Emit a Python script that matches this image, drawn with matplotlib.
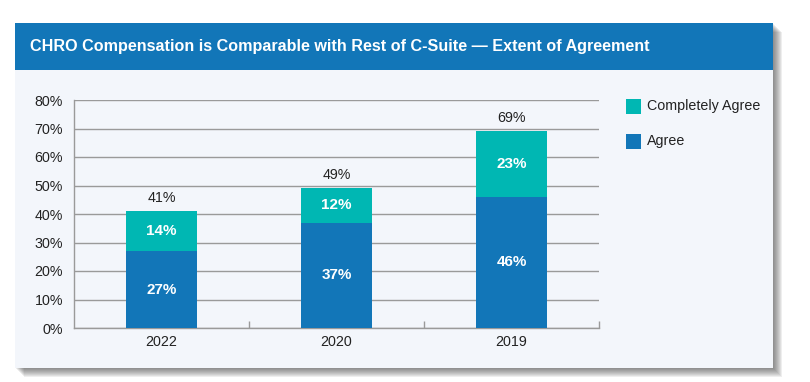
import matplotlib.pyplot as plt
from matplotlib.patches import Rectangle
from matplotlib.ticker import FixedLocator

years = ['2022', '2020', '2019']
agree = [27, 37, 46]
completely_agree = [14, 12, 23]
totals = [41, 49, 69]
y_ticks = [0, 10, 20, 30, 40, 50, 60, 70, 80]

BLUE = '#1276b8'
TEAL = '#00b7b3'
PANEL = '#f3f6fb'
GRID = '#9a9a9a'
TEXT = '#222222'

plt.rcParams['font.family'] = ['Liberation Sans', 'DejaVu Sans']

W, H = 810, 382
fig = plt.figure(figsize=(W / 100, H / 100), dpi=100)
fig.patch.set_facecolor('white')


def px(x0, y0, x1, y1):
    # pixel box (top-left origin) -> figure fraction rect
    return (x0 / W, 1 - y1 / H, (x1 - x0) / W, (y1 - y0) / H)


# soft shadow behind the panel
for i in range(9, 0, -1):
    l, b, w, h = px(15 + i, 23 + i, 773 + i, 368 + i)
    fig.patches.append(Rectangle((l, b), w, h, transform=fig.transFigure,
                                 facecolor='#444444', alpha=0.09,
                                 edgecolor='none', zorder=0))

l, b, w, h = px(15, 23, 773, 368)
fig.patches.append(Rectangle((l, b), w, h, transform=fig.transFigure,
                             facecolor=PANEL, edgecolor='none', zorder=1))
l, b, w, h = px(15, 23, 773, 70)
fig.patches.append(Rectangle((l, b), w, h, transform=fig.transFigure,
                             facecolor=BLUE, edgecolor='none', zorder=2))
fig.text(30 / W, 1 - 46.5 / H,
         'CHRO Compensation is Comparable with Rest of C-Suite \u2014 Extent of Agreement',
         color='white', fontsize=11.6, fontweight='bold', va='center', ha='left', zorder=3)

ax = fig.add_axes(px(74, 100, 599, 328))
ax.set_zorder(5)
ax.set_facecolor('none')
x = list(range(len(years)))
bw = 0.405
ax.bar(x, agree, width=bw, color=BLUE, zorder=3, label='Agree')
ax.bar(x, completely_agree, width=bw, bottom=agree, color=TEAL, zorder=3,
       label='Completely Agree')

for i in x:
    ax.text(i, agree[i] / 2, f'{agree[i]}%', ha='center', va='center',
            color='white', fontsize=11, fontweight='bold', zorder=4)
    ax.text(i, agree[i] + completely_agree[i] / 2, f'{completely_agree[i]}%',
            ha='center', va='center', color='white', fontsize=11,
            fontweight='bold', zorder=4)
    ax.text(i, totals[i] + 2.3, f'{totals[i]}%', ha='center', va='bottom',
            color=TEXT, fontsize=10.3, zorder=4)

ax.set_xlim(-0.5, 2.5)
ax.set_ylim(0, 80)
ax.set_yticks(y_ticks)
ax.set_yticklabels([f'{v}%' for v in y_ticks], fontsize=10.3, color=TEXT)
ax.set_xticks(x)
ax.set_xticklabels(years, fontsize=10.3, color=TEXT)
ax.tick_params(axis='both', length=0, pad=8)
ax.tick_params(axis='x', pad=5)
ax.xaxis.set_minor_locator(FixedLocator([0.5, 1.5, 2.5]))
ax.tick_params(axis='x', which='minor', direction='in', length=5,
               color=GRID, width=1)
ax.grid(axis='y', color=GRID, linewidth=1, zorder=0)
for s in ['top', 'right']:
    ax.spines[s].set_visible(False)
for s in ['left', 'bottom']:
    ax.spines[s].set_color(GRID)
    ax.spines[s].set_linewidth(1)

# legend
items = [('Completely Agree', TEAL, 106), ('Agree', BLUE, 141)]
for label, col, yc in items:
    l, b, w, h = px(626, yc - 7.5, 641, yc + 7.5)
    fig.patches.append(Rectangle((l, b), w, h, transform=fig.transFigure,
                                 facecolor=col, edgecolor='none', zorder=3))
    fig.text(647 / W, 1 - yc / H, label, fontsize=10.3, color=TEXT,
             va='center', ha='left', zorder=3)

fig.savefig('out.png', dpi=100, facecolor='white')
